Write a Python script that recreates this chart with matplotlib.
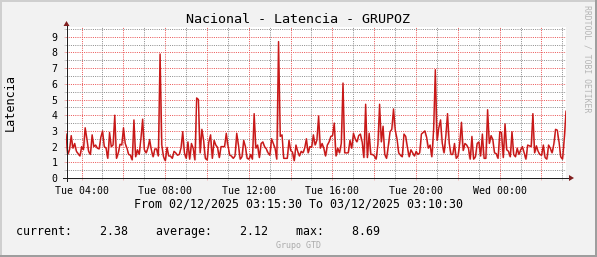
import numpy as np
import pandas as pd
import matplotlib
matplotlib.use("Agg")
import matplotlib.pyplot as plt
import matplotlib.dates as mdates
from matplotlib.collections import PolyCollection
from matplotlib.patches import Rectangle, Polygon
from matplotlib.ticker import MultipleLocator, FuncFormatter

# ---------------- data ----------------
start_time = "2025-12-02 03:15:30"
step = "5min"
latency = [
    2.8, 1.5, 1.8, 2.7, 1.9, 2.2, 1.7, 1.55, 1.4, 2.0, 1.8, 3.2,
    2.5, 1.7, 1.5, 2.75, 2.0, 2.1, 1.9, 1.85, 2.6, 3.0, 2.0, 1.9,
    1.25, 2.9, 2.0, 2.1, 4.0, 1.25, 1.6, 2.15, 2.1, 3.2, 2.2, 1.9,
    1.5, 1.45, 1.15, 3.7, 1.35, 1.8, 1.5, 2.5, 3.75, 1.8, 1.6, 1.9,
    2.45, 1.8, 1.35, 1.85, 1.85, 1.4, 7.9, 2.1, 1.35, 1.1, 1.95, 1.4,
    1.4, 1.25, 1.7, 1.6, 1.45, 1.5, 1.9, 2.95, 1.6, 1.25, 2.3, 1.2,
    2.2, 1.9, 1.15, 5.1, 5.0, 1.6, 3.1, 2.4, 1.25, 1.15, 2.3, 2.75,
    1.25, 2.4, 2.1, 1.95, 1.3, 2.0, 2.0, 2.0, 2.85, 2.05, 1.45, 1.4,
    1.25, 1.4, 2.85, 2.1, 1.2, 1.35, 2.4, 2.0, 1.25, 1.2, 1.5, 1.2,
    4.1, 1.9, 2.1, 1.3, 2.2, 2.3, 2.0, 1.85, 1.6, 1.45, 2.5, 2.2,
    1.9, 1.2, 8.69, 2.65, 2.75, 1.25, 1.25, 1.25, 2.4, 1.75, 1.65, 1.1,
    2.1, 1.7, 1.4, 1.7, 1.6, 1.9, 2.5, 1.6, 2.0, 1.95, 2.75, 2.1,
    2.4, 3.95, 1.9, 2.2, 1.9, 1.4, 2.1, 2.3, 2.65, 2.7, 3.5, 1.4,
    1.9, 1.6, 2.2, 6.05, 1.6, 1.6, 1.6, 2.4, 1.9, 2.85, 2.5, 2.3,
    2.7, 2.8, 2.3, 1.3, 4.7, 1.3, 2.85, 1.5, 1.5, 1.4, 1.2, 2.1,
    4.7, 2.3, 3.3, 1.5, 1.25, 2.05, 2.95, 3.1, 4.4, 3.05, 2.5, 1.6,
    1.45, 1.35, 2.8, 2.65, 1.95, 1.35, 1.8, 1.6, 1.4, 1.7, 1.5, 1.6,
    2.8, 2.9, 3.0, 2.6, 1.9, 2.1, 1.35, 3.05, 6.9, 2.4, 3.2, 3.7,
    2.2, 1.6, 2.65, 4.1, 2.2, 1.5, 1.5, 2.2, 1.25, 1.4, 2.2, 3.55,
    1.75, 2.2, 2.1, 1.9, 1.2, 2.65, 1.2, 1.35, 2.2, 2.3, 1.4, 2.8,
    1.25, 1.25, 4.35, 2.2, 2.7, 2.45, 1.6, 1.55, 1.25, 2.95, 2.9, 1.3,
    3.45, 1.8, 1.7, 1.35, 2.95, 1.5, 1.35, 1.9, 1.5, 1.8, 2.0, 1.6,
    1.2, 2.1, 2.05, 2.0, 4.1, 1.6, 2.05, 1.7, 1.5, 1.45, 2.1, 1.3,
    1.2, 2.1, 1.9, 1.6, 2.15, 3.1, 3.05, 2.3, 1.35, 1.2, 2.5, 4.25,
]
y_ticks = list(range(0, 10))
title = "Nacional - Latencia - GRUPOZ"
y_label = "Latencia"
period_text = "From 02/12/2025 03:15:30 To 03/12/2025 03:10:30"
stats_text = "current:    2.38    average:    2.12    max:    8.69"
watermark = "Grupo GTD"
side_text = "RRDTOOL / TOBI OETIKER"

# ---------------- style ----------------
W, H = 597, 257
BACK = "#F2F2F2"
SHADE_A = "#CFCFCF"
SHADE_B = "#9E9E9E"
GRID = (0.56, 0.56, 0.56, 0.38)
MGRID = (0.92, 0.35, 0.35, 0.38)
ARROW = "#801F1F"
AXIS = "#1F1F1F"
LINE = "#C81818"
MONO = "DejaVu Sans Mono"
px = 0.72  # one pixel in points at 100 dpi

times = pd.date_range(start_time, periods=len(latency), freq=step)
t = mdates.date2num(times.to_pydatetime())
v = np.asarray(latency, dtype=float)

fig = plt.figure(figsize=(W / 100, H / 100), dpi=100, facecolor=BACK)

def fx(x):
    return x / W

def fy(y):
    return 1 - y / H

# 3D shading border
fig.add_artist(Rectangle((0, fy(2)), 1, 2 / H, transform=fig.transFigure, color=SHADE_A, lw=0))
fig.add_artist(Rectangle((0, 0), 2 / W, 1, transform=fig.transFigure, color=SHADE_A, lw=0))
fig.add_artist(Rectangle((0, 0), 1, 2 / H, transform=fig.transFigure, color=SHADE_B, lw=0))
fig.add_artist(Rectangle((1 - 2 / W, 0), 2 / W, 1, transform=fig.transFigure, color=SHADE_B, lw=0))

L, R, T, B = 66, 566, 27, 178
ax = fig.add_axes([fx(L), fy(B), (R - L) / W, (B - T) / H])
ax.set_facecolor("white")
for s in ax.spines.values():
    s.set_visible(False)

ax.set_xlim(t[0], t[-1])
ax.set_ylim(0, 9.62)

# grids
ax.set_yticks(y_ticks)
ax.yaxis.set_minor_locator(MultipleLocator(0.5))
ax.xaxis.set_major_locator(mdates.HourLocator(byhour=range(0, 24, 2)))
ax.xaxis.set_minor_locator(mdates.HourLocator())
ax.xaxis.set_major_formatter(
    FuncFormatter(lambda x, pos: mdates.num2date(x).strftime("%a %H:%M")
                  if mdates.num2date(x).hour % 4 == 0 else ""))
ax.set_axisbelow(True)
dot = (0, (1, 1.2))
ax.grid(which="major", color=MGRID, linestyle=dot, lw=px)
ax.grid(which="minor", color=GRID, linestyle=dot, lw=px)
ax.tick_params(which="major", axis="both", length=2 * px, width=px,
               color=MGRID, labelsize=7.1, labelfontfamily=MONO, labelcolor="black")
ax.tick_params(which="minor", axis="both", length=2 * px, width=px, color=GRID)
ax.tick_params(axis="y", pad=4.8)
ax.tick_params(axis="x", pad=4.2)

# gradient area (per segment, from segment top down to segment bottom)
n_layers = 12
alpha_layer = 1 - 0.3 ** (1 / n_layers)
polys = []
for i in range(len(v) - 1):
    t0, t1, y0, y1 = t[i], t[i + 1], v[i], v[i + 1]
    lo, hi = min(y0, y1), max(y0, y1)
    if hi - lo < 1e-6:
        continue
    for k in range(n_layers):
        h = lo + (hi - lo) * k / n_layers
        if y0 > y1:
            tc = t0 + (y0 - h) / (y0 - y1) * (t1 - t0)
            polys.append([(t0, h), (t0, y0), (tc, h)])
        else:
            tc = t0 + (h - y0) / (y1 - y0) * (t1 - t0)
            polys.append([(tc, h), (t1, y1), (t1, h)])
ax.add_collection(PolyCollection(polys, facecolors="#D83030", alpha=alpha_layer,
                                 linewidths=0, zorder=2))
ax.plot(t, v, color=LINE, lw=1.05, zorder=3)

# axes lines with arrows
fig.add_artist(plt.Line2D([fx(L - 3), fx(R + 4)], [fy(B), fy(B)], transform=fig.transFigure,
                          color=AXIS, lw=px, zorder=5))
fig.add_artist(plt.Line2D([fx(L + 0.5), fx(L + 0.5)], [fy(B + 3), fy(T - 1)], transform=fig.transFigure,
                          color=AXIS, lw=px, zorder=5))
fig.add_artist(Polygon([(fx(L + 0.5 - 3), fy(T - 1)), (fx(L + 0.5 + 3), fy(T - 1)), (fx(L + 0.5), fy(T - 6))],
                       closed=True, transform=fig.transFigure, color=ARROW, lw=0, zorder=6))
fig.add_artist(Polygon([(fx(R + 3), fy(B - 3)), (fx(R + 3), fy(B + 3)), (fx(R + 8), fy(B))],
                       closed=True, transform=fig.transFigure, color=ARROW, lw=0, zorder=6))

# texts
fig.text(fx(298.5), fy(19.5), title, ha="center", va="center", fontsize=9.6, family=MONO)
fig.text(fx(10.5), fy(102.5), y_label, ha="center", va="center", rotation=90, fontsize=8.5, family=MONO)
fig.text(fx(298), fy(204), period_text, ha="center", va="center", fontsize=8.4, family=MONO)
fig.text(fx(16), fy(232), stats_text, ha="left", va="center", fontsize=8.4, family=MONO)
fig.text(fx(298.5), fy(246), watermark, ha="center", va="center", fontsize=6, family=MONO, color="#ABABAB")
fig.text(fx(587.5), fy(59), side_text, ha="center", va="center", rotation=270, fontsize=5.9,
         family=MONO, color="#B5B5B5")

fig.savefig("out.png", dpi=100, facecolor=BACK)
